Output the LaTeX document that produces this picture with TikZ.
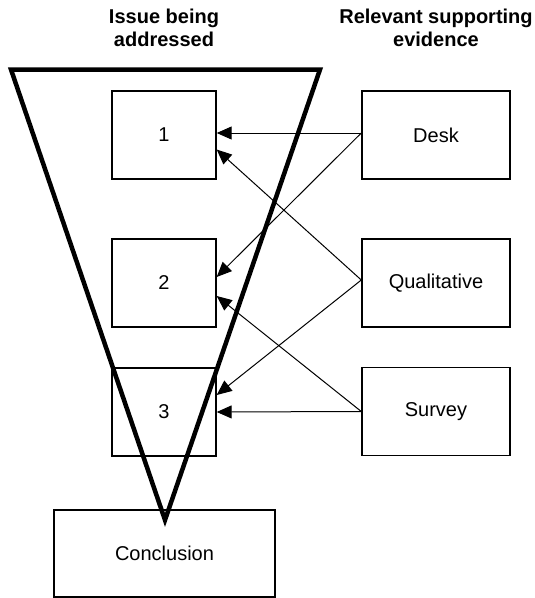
\documentclass[tikz,border=0pt]{standalone}
\usepackage{fontspec}
\setmainfont{Liberation Sans}
\usetikzlibrary{arrows.meta}
\begin{document}
\begin{tikzpicture}[x=1pt,y=-1pt,
  every node/.style={font=\fontsize{20}{23}\selectfont, inner sep=0pt},
  item/.style={draw, line width=1.4pt, minimum width=104pt, minimum height=88pt},
  source/.style={draw, line width=1.4pt, minimum width=148pt, minimum height=88pt},
  heading/.style={font=\fontsize{20}{23}\selectfont\bfseries, align=center, anchor=north},
  link/.style={-{Triangle[length=15pt,width=13pt]}, line width=1pt},
  funnel/.style={line width=4.5pt, line join=miter}]
  \useasboundingbox (0,0) rectangle (535,598);

  % column headings
  \node[heading] (hissue) at (164,8.5) {Issue being\\addressed};
  \node[heading] (hevid) at (436,8.5) {Relevant supporting\\evidence};

  % issue boxes
  \node[item] (b1) at (164,135) {1};
  \node[item] (b2) at (164,283) {2};
  \node[item] (b3) at (164,412) {3};
  \node[draw, line width=1.4pt, minimum width=221pt, minimum height=87pt] (concl) at (164.5,553.5) {Conclusion};

  % evidence boxes
  \node[source] (desk) at (436,135) {Desk};
  \node[source] (qual) at (436,283) {Qualitative};
  \node[source] (surv) at (436,411.5) {Survey};

  % funnel narrowing down to the conclusion
  \draw[funnel] (11,69.5) -- (320,69.5) -- (165,520) -- cycle;

  % evidence feeding each issue
  \draw[link] ([yshift=2pt]desk.west) -- ([yshift=2pt]b1.east);
  \draw[link] ([yshift=2pt]desk.west) -- ([yshift=6pt]b2.east);
  \draw[link] ([yshift=3pt]qual.west) -- ([yshift=-14.5pt]b1.east);
  \draw[link] ([yshift=3pt]qual.west) -- ([yshift=17pt]b3.east);
  \draw[link] (surv.west) -- ([yshift=-13pt]b2.east);
  \draw[link] (surv.west) -- (b3.east);
\end{tikzpicture}
\end{document}
